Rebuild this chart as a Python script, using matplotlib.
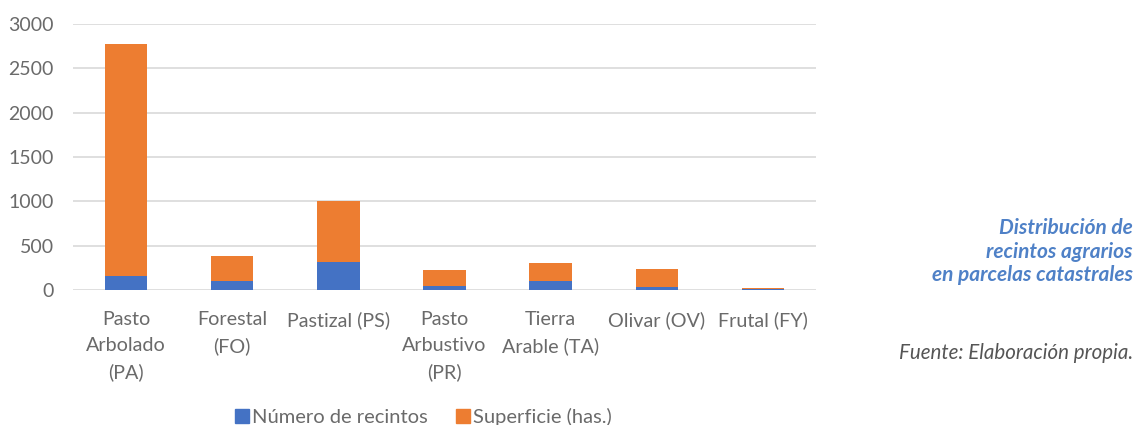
import matplotlib
matplotlib.use('Agg')
import matplotlib.pyplot as plt
from matplotlib.patches import Patch

categories = ['Pasto\nArbolado\n(PA)', 'Forestal\n(FO)', 'Pastizal (PS)', 'Pasto\nArbustivo\n(PR)',
              'Tierra\nArable (TA)', 'Olivar (OV)', 'Frutal (FY)']
recintos = [155, 100, 320, 50, 100, 35, 12]
superficie = [2625, 285, 680, 180, 205, 205, 14]
y_ticks = [0, 500, 1000, 1500, 2000, 2500, 3000]

blue = '#4472C4'
orange = '#ED7D31'
gray_text = '#6a6a6a'

plt.rcParams['font.family'] = ['Lato', 'DejaVu Sans']

fig = plt.figure(figsize=(11.37, 4.25), dpi=100)
ax = fig.add_axes([73 / 1137, 1 - 290 / 425, (816 - 73) / 1137, (290 - 24) / 425])

x = list(range(len(categories)))
ax.bar(x, recintos, width=0.4, color=blue, zorder=3)
ax.bar(x, superficie, width=0.4, bottom=recintos, color=orange, zorder=3)

ax.set_xlim(-0.5, len(categories) - 0.5)
ax.set_ylim(0, 3000)
ax.set_yticks(y_ticks)
ax.set_yticklabels([str(v) for v in y_ticks])
ax.yaxis.grid(True, color='#d9d9d9', linewidth=1.2, zorder=0)
ax.set_axisbelow(True)
for s in ax.spines.values():
    s.set_visible(False)
ax.tick_params(axis='y', length=0, pad=14, labelsize=14, labelcolor=gray_text)
ax.tick_params(axis='x', length=0, pad=15, labelsize=14.2, labelcolor=gray_text)
ax.set_xticks(x)
ax.set_xticklabels(categories, linespacing=1.62, va='top')

handles = [Patch(color=blue, label='Número de recintos'),
           Patch(color=orange, label='Superficie (has.)')]
fig.legend(handles=handles, loc='center', bbox_to_anchor=(423 / 1137, 1 - 417 / 425), ncol=2,
           frameon=False, fontsize=14.5, labelcolor=gray_text, handlelength=0.7, handleheight=0.7,
           handletextpad=0.15, columnspacing=1.4, borderpad=0)

title_color = '#4F81C7'
fig.text(1133 / 1137, 1 - 228 / 425, 'Distribución de', ha='right', va='center', fontsize=15,
         fontweight='bold', style='italic', color=title_color)
fig.text(1133 / 1137, 1 - 252 / 425, 'recintos agrarios', ha='right', va='center', fontsize=15,
         fontweight='bold', style='italic', color=title_color)
fig.text(1133 / 1137, 1 - 275 / 425, 'en parcelas catastrales', ha='right', va='center', fontsize=15,
         fontweight='bold', style='italic', color=title_color)
fig.text(1133 / 1137, 1 - 353 / 425, 'Fuente: Elaboración propia.', ha='right', va='center',
         fontsize=14.8, style='italic', color='#555555')

fig.savefig('out.png', dpi=100)
